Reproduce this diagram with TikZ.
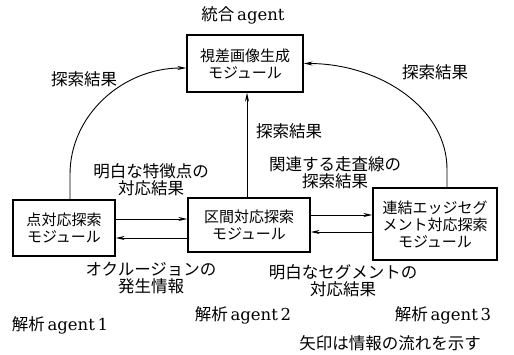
\documentclass[tikz,border=0pt]{standalone}
\usepackage{fontspec}
\setmainfont{Noto Sans CJK JP}
\newfontfamily\lat{DejaVu Serif}
\usetikzlibrary{arrows.meta}
\newcommand\fs{\fontsize{15}{17}\selectfont}
\newcommand\fl{\fontsize{16.5}{17}\selectfont}
\begin{document}
\begin{tikzpicture}[x=1pt,y=-1pt,
  box/.style={draw,line width=1.3pt,align=center,inner sep=0pt,font=\fs},
  lab/.style={align=center,inner sep=0pt,font=\fl},
  conn/.style={line width=0.9pt,-{Stealth[length=9pt,width=4pt]}}]
\useasboundingbox (0,0) rectangle (514,355);
% modules
\node[box,minimum width=116pt,minimum height=57pt] (top) at (245,63.5) {視差画像生成\\モジュール};
\node[box,minimum width=102pt,minimum height=56pt] (left) at (64,228) {点対応探索\\モジュール};
\node[box,minimum width=122pt,minimum height=54pt] (mid) at (249,225) {区間対応探索\\モジュール};
\node[box,minimum width=124pt,minimum height=72pt] (right) at (435,224) {連結エッジセグ\\メント対応探索\\モジュール};
% connectors
\draw[conn] ([xshift=6pt]left.north) -- ++(0,-25) .. controls +(0,-59) and +(-64,0) .. ([yshift=-4.5pt]top.west);
\draw[conn] ([xshift=12pt]right.north) -- ++(0,-18) .. controls +(0,-62) and +(75,0) .. (top.east);
\draw[conn] ([xshift=-2pt]mid.north) -- ([xshift=-2pt]mid.north |- top.south);
\draw[conn] ([yshift=9pt]left.east) -- ([yshift=9pt]left.east -| mid.west);
\draw[conn] ([yshift=-13pt]mid.west) -- ([yshift=-13pt]mid.west -| left.east);
\draw[conn] ([yshift=10pt]mid.east) -- ([yshift=10pt]mid.east -| right.west);
\draw[conn] ([yshift=-7pt]mid.east -| right.west) -- ([yshift=-7pt]mid.east);
% labels
\node[lab] (t0) at (243,15) {統合\,{\lat agent}};
\node[lab] (l1) at (84,79) {探索結果};
\node[lab] (l2) at (435,72) {探索結果};
\node[lab] (l3) at (289,131) {探索結果};
\node[lab] (l4) at (151,180) {明白な特徴点の\\対応結果};
\node[lab] (l5) at (335,173) {関連する走査線の\\探索結果};
\node[lab] (l6) at (151,278) {オクルージョンの\\発生情報};
\node[lab] (l7) at (343,281) {明白なセグメントの\\対応結果};
\node[lab] (a1) at (60,325) {解析\,{\lat agent\,1}};
\node[lab] (a2) at (243,315) {解析\,{\lat agent\,2}};
\node[lab] (a3) at (443,315) {解析\,{\lat agent\,3}};
\node[lab] (note) at (390,343) {矢印は情報の流れを示す};
\end{tikzpicture}
\end{document}
